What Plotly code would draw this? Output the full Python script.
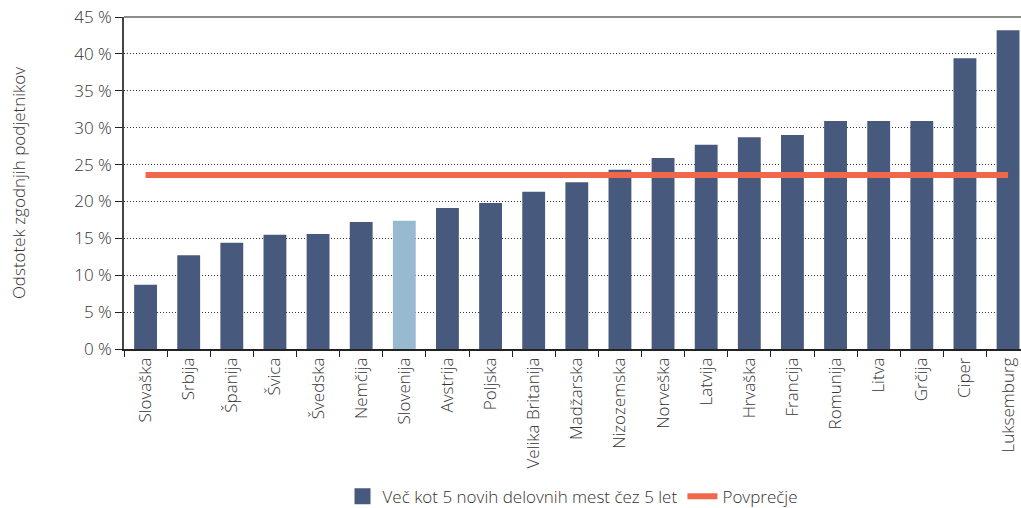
import plotly.graph_objects as go

countries = ["Slovaška", "Srbija", "Španija", "Švica", "Švedska", "Nemčija", "Slovenija",
             "Avstrija", "Poljska", "Velika Britanija", "Madžarska", "Nizozemska", "Norveška",
             "Latvija", "Hrvaška", "Francija", "Romunija", "Litva", "Grčija", "Ciper", "Luksemburg"]
values = [8.7, 12.7, 14.4, 15.5, 15.6, 17.2, 17.4, 19.1, 19.8, 21.3, 22.6, 24.3, 25.9,
          27.7, 28.7, 29.0, 30.9, 30.9, 30.9, 39.4, 43.2]
average = 23.6
highlight = "Slovenija"
y_ticks = [0, 5, 10, 15, 20, 25, 30, 35, 40, 45]
y_ticklabels = [f"{v} %" for v in y_ticks]

BAR = "#475A7E"
HL = "#98BAD0"
LINE = "#EF684C"
FONT = "Open Sans"
TXT = "#333333"
FS = 17

colors = [HL if c == highlight else BAR for c in countries]

fig = go.Figure()
fig.add_trace(go.Bar(x=countries, y=values, marker=dict(color=colors, line_width=0),
                     name="Več kot 5 novih delovnih mest čez 5 let", showlegend=False))
# legend proxy with uniform colour
fig.add_trace(go.Scatter(x=[countries[0]], y=[None], mode="markers",
                         marker=dict(color=BAR, symbol="square", size=17),
                         name="Več kot 5 novih delovnih mest čez 5 let"))
fig.add_trace(go.Scatter(x=[countries[0], countries[-1]], y=[average, average], mode="lines",
                         line=dict(color=LINE, width=6), name="Povprečje"))

fig.update_layout(
    width=1021, height=508,
    margin=dict(l=124, r=0, t=17, b=159, autoexpand=False),
    plot_bgcolor="white", paper_bgcolor="white",
    font=dict(family=FONT, size=FS, color=TXT, weight=300),
    bargap=0.47, barmode="overlay",
    showlegend=True,
    legend=dict(orientation="h", x=0.5, xanchor="center", y=-0.445, yanchor="middle",
                font=dict(size=FS, color=TXT, weight=300), traceorder="normal"),
    xaxis=dict(type="category", range=[-0.5, 20.3], tickson="boundaries", ticks="outside",
               ticklen=6, tickcolor="#222", showline=True, linecolor="#222", linewidth=1.5,
               tickangle=-90, tickfont=dict(size=FS, color=TXT, weight=300), showgrid=False,
               automargin=False, ticklabeloverflow="allow"),
    yaxis=dict(range=[0, 45], tickvals=y_ticks, ticktext=y_ticklabels, ticks="outside",
               ticklen=7, tickcolor="#222", showline=True, linecolor="#444", linewidth=1.5,
               showgrid=True, gridcolor="#333", griddash="1px,2px", gridwidth=1,
               tickfont=dict(size=FS, color=TXT, weight=300), zeroline=False, automargin=False,
               ticklabeloverflow="allow",
               title=dict(text="Odstotek zgodnjih podjetnikov",
                          font=dict(size=FS, color=TXT, weight=300), standoff=44)),
)
fig.add_shape(type="line", xref="paper", yref="paper", x0=0, x1=1, y0=1, y1=1,
              line=dict(color="#666", width=1.5), layer="above")

fig.write_html(
    "out.html",
    config={"displayModeBar": False},
    post_script="document.documentElement.style.margin='0';document.body.style.margin='0';"
                "document.body.style.overflow='hidden';",
)
